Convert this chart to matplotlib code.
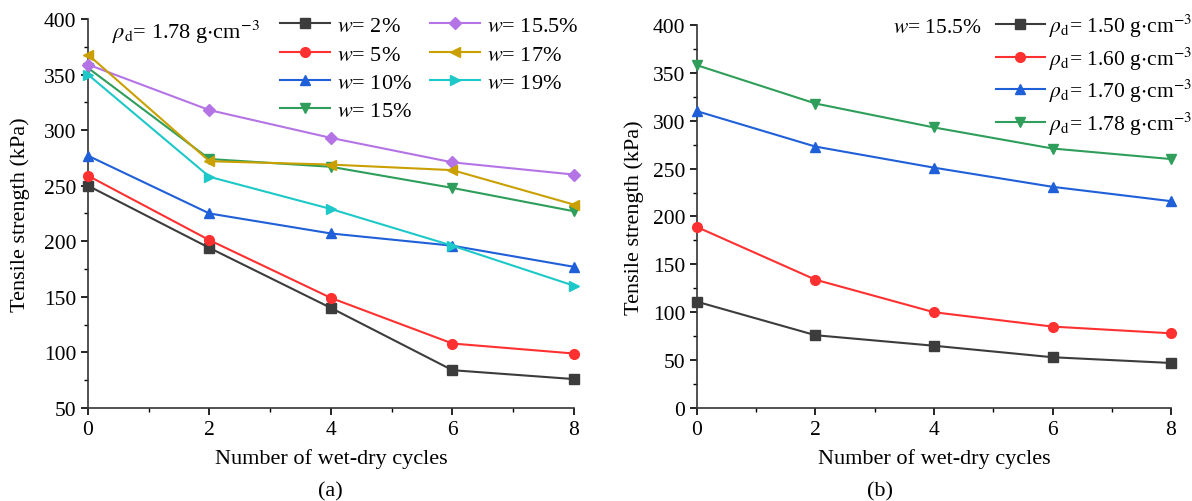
import matplotlib.pyplot as plt
from matplotlib.ticker import MultipleLocator

plt.rcParams['font.family'] = ['Liberation Serif', 'DejaVu Serif']
plt.rcParams['mathtext.fontset'] = 'stix'
plt.rcParams['font.size'] = 15

cycles = [0, 2, 4, 6, 8]

# (a) fixed dry density 1.78 g/cm3, varying water content
w_labels = ['2%', '5%', '10%', '15%', '15.5%', '17%', '19%']
w_2 = [250, 194, 140, 84, 76]
w_5 = [259, 201, 149, 108, 99]
w_10 = [277, 225, 207, 196, 177]
w_15 = [356, 274, 267, 248, 227]
w_155 = [359, 318, 293, 271, 260]
w_17 = [368, 272, 269, 264, 233]
w_19 = [350, 258, 229, 196, 160]

# (b) fixed water content 15.5%, varying dry density
rho_labels = ['1.50', '1.60', '1.70', '1.78']
rho_150 = [111, 76, 65, 53, 47]
rho_160 = [189, 134, 100, 85, 78]
rho_170 = [310, 273, 251, 231, 216]
rho_178 = [358, 318, 293, 271, 260]

colors_a = ['#3c3c3c', '#ff3030', '#1f5fd8', '#2e9e5a', '#b574e6', '#c9a000', '#1ec8c8']
markers_a = ['s', 'o', '^', 'v', 'D', '<', '>']
colors_b = ['#3c3c3c', '#ff3030', '#1f5fd8', '#2e9e5a']
markers_b = ['s', 'o', '^', 'v']

fig = plt.figure(figsize=(11.92, 5.02), dpi=100)
ax1 = fig.add_axes([0.0738, 0.1853, 0.4077, 0.7749])
ax2 = fig.add_axes([0.5847, 0.1853, 0.3977, 0.7629])


def style_axis(ax, ylim, ystep, ypad):
    ax.set_xlim(0, 8)
    ax.set_ylim(*ylim)
    ax.spines['top'].set_visible(False)
    ax.spines['right'].set_visible(False)
    for s in ('left', 'bottom'):
        ax.spines[s].set_linewidth(1.2)
        ax.spines[s].set_color('#333333')
    ax.xaxis.set_major_locator(MultipleLocator(2))
    ax.xaxis.set_minor_locator(MultipleLocator(1))
    ax.yaxis.set_major_locator(MultipleLocator(ystep))
    ax.yaxis.set_minor_locator(MultipleLocator(ystep / 2))
    ax.tick_params(which='major', direction='out', length=5, width=1.2, labelsize=15.5)
    ax.tick_params(which='minor', direction='out', length=3, width=1.0)
    ax.set_xlabel('Number of wet-dry cycles', fontsize=16, labelpad=7)
    ax.set_ylabel('Tensile strength (kPa)', fontsize=16, labelpad=ypad)
    ax.patch.set_alpha(0)


series_a = [w_2, w_5, w_10, w_15, w_155, w_17, w_19]
for vals, lab, c, m in zip(series_a, w_labels, colors_a, markers_a):
    ax1.plot(cycles, vals, color=c, marker=m, markersize=7 if m != 'D' else 6,
             linewidth=1.5, label='$w$= ' + lab, clip_on=False, zorder=3)
style_axis(ax1, (50, 400), 50, 10)
ax1.text(0.4, 389, r'$\rho_{\rm d}$= 1.78 g$\cdot$cm$^{-3}$', fontsize=16, va='center')
ax1.legend(ncol=2, frameon=False, loc='upper left', bbox_to_anchor=(0.355, 1.06),
           handlelength=2.25, handletextpad=0.3, columnspacing=0.8,
           labelspacing=0.35, fontsize=16)

series_b = [rho_150, rho_160, rho_170, rho_178]
for vals, lab, c, m in zip(series_b, rho_labels, colors_b, markers_b):
    ax2.plot(cycles, vals, color=c, marker=m, markersize=7, linewidth=1.5,
             label=r'$\rho_{\rm d}$= ' + lab + r' g$\cdot$cm$^{-3}$', clip_on=False, zorder=3)
style_axis(ax2, (0, 400), 50, 6)
ax2.yaxis.set_minor_locator(MultipleLocator(25))
ax2.text(4.05, 397, '$w$= 15.5%', fontsize=15.5, va='center', ha='center')
ax2.legend(frameon=False, loc='upper left', bbox_to_anchor=(0.589, 1.085),
           handlelength=2.3, handletextpad=0.2, labelspacing=0.25, fontsize=15.5)

fig.text(0.2768, 0.02, '(a)', ha='center', va='center', fontsize=16)
fig.text(0.738, 0.02, '(b)', ha='center', va='center', fontsize=16)

fig.savefig('out.png', dpi=100)
